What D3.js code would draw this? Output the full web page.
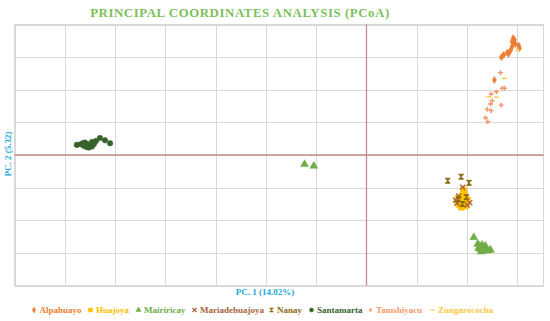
<!DOCTYPE html>
<html><head><meta charset="utf-8">
<script src="https://cdn.jsdelivr.net/npm/d3@7"></script>
<style>body{margin:0;background:#fff}svg{display:block}</style>
</head><body><svg id="c" width="550" height="321"></svg>
<script>
const seriesNames = ["Alpahuayo","Huajoya","Mairiricay","Mariadehuajoya","Nanay","Santamarta","Tamshiyacu","Zungarococha"];
const seriesColors = ["#ED7D31","#FFC000","#70AD47","#A8643A","#8C6A10","#37622A","#F2996A","#FFC83D"];
const xTicks = [-0.35,-0.3,-0.25,-0.2,-0.15,-0.1,-0.05,0,0.05,0.1,0.15];
const yTicks = [-0.4,-0.3,-0.2,-0.1,0,0.1,0.2,0.3,0.4];
const alpahuayo = [[0.1458,0.358],[0.1471,0.353],[0.1448,0.3475],[0.1464,0.3445],[0.1481,0.3405],[0.1448,0.332],[0.1514,0.335],[0.1521,0.327],[0.1399,0.314],[0.1365,0.307],[0.1342,0.300],[0.1431,0.320],[0.1272,0.230],[0.1412,0.310]];
const huajoya = [[0.0915,-0.132],[0.0934,-0.141],[0.0954,-0.126],[0.0974,-0.117],[0.0984,-0.132],[0.0994,-0.147],[0.0964,-0.150],[0.0924,-0.153],[0.0944,-0.160],[0.1004,-0.138],[0.0905,-0.144],[0.0984,-0.156],[0.0964,-0.107],[0.0974,-0.125]];
const mairiricay = [[-0.0616,-0.0285],[-0.0524,-0.0337],[0.1067,-0.2525],[0.1106,-0.273],[0.1126,-0.279],[0.115,-0.276],[0.1166,-0.283],[0.1183,-0.279],[0.1133,-0.289],[0.116,-0.2936],[0.1193,-0.289],[0.1233,-0.291],[0.114,-0.2966],[0.1206,-0.2936],[0.1116,-0.286]];
const mariadehuajoya = [[0.0957,-0.099],[0.0917,-0.126],[0.0902,-0.148],[0.1027,-0.146],[0.1001,-0.153],[0.0885,-0.138]];
const nanay = [[0.0808,-0.0788],[0.0941,-0.0666],[0.102,-0.0853],[0.0915,-0.135],[0.0994,-0.129],[0.0954,-0.150]];
const santamarta = [[-0.288,0.031],[-0.284,0.033],[-0.282,0.036],[-0.280,0.038],[-0.278,0.034],[-0.274,0.031],[-0.273,0.026],[-0.271,0.034],[-0.269,0.043],[-0.265,0.052],[-0.255,0.036],[-0.276,0.023],[-0.281,0.028],[-0.273,0.040],[-0.278,0.024],[-0.260,0.045]];
const tamshiyacu = [[0.1332,0.2525],[0.1349,0.2046],[0.1372,0.2046],[0.1292,0.194],[0.124,0.187],[0.125,0.1666],[0.1233,0.1564],[0.1339,0.153],[0.12,0.140],[0.124,0.136],[0.1183,0.1144],[0.1206,0.102]];
const zungarococha = [[0.1372,0.235],[0.1216,0.179],[0.1292,0.177],[0.1505,0.322]];
const allData = [alpahuayo,huajoya,mairiricay,mariadehuajoya,nanay,santamarta,tamshiyacu,zungarococha];

const svg = d3.select("#c");
const L=14.5, R=543.5, T=24.5, B=285.5;
const x = d3.scaleLinear().domain([-0.35,0.176]).range([L,R]);
const y = d3.scaleLinear().domain([-0.4,0.4]).range([B,T]);

svg.append("g").selectAll("line").data(xTicks).join("line")
  .attr("x1",d=>Math.round(x(d))+0.5).attr("x2",d=>Math.round(x(d))+0.5).attr("y1",T).attr("y2",B)
  .attr("stroke","#D9D9D9").attr("stroke-width",1);
svg.append("g").selectAll("line").data(yTicks).join("line")
  .attr("y1",d=>Math.round(y(d))+0.5).attr("y2",d=>Math.round(y(d))+0.5).attr("x1",L).attr("x2",R)
  .attr("stroke","#D9D9D9").attr("stroke-width",1);
svg.append("rect").attr("x",L).attr("y",T).attr("width",R-L).attr("height",B-T)
  .attr("fill","none").attr("stroke","#D9D9D9");
svg.append("line").attr("x1",x(0)).attr("x2",x(0)).attr("y1",T).attr("y2",B)
  .attr("stroke","#C48A86").attr("stroke-width",1.3);
svg.append("line").attr("y1",y(0)).attr("y2",y(0)).attr("x1",L).attr("x2",R)
  .attr("stroke","#C48A86").attr("stroke-width",1.3);

function markerPath(i, s){
  const h=s/2;
  switch(i){
    case 0: return d3.symbol(d3.symbolDiamond, s*s*0.6)();
    case 1: return `M${-h},${-h}h${s}v${s}h${-s}Z`;
    case 2: return d3.symbol(d3.symbolTriangle, s*s*0.7)();
    case 3: return `M${-h},${-h}L${h},${h}M${h},${-h}L${-h},${h}`;
    case 4: return `M${-h},${-h}H${h}L${-h},${h}H${h}Z`;
    case 5: return d3.symbol(d3.symbolCircle, s*s*0.8)();
    case 6: return `M${-h},0H${h}M0,${-h}V${h}`;
    case 7: return `M${-h},0H${h}`;
  }
}
const sizes=[5,6,6.3,5,5,5.5,5,5];
allData.forEach((arr,i)=>{
  const g=svg.append("g");
  g.selectAll("path").data(arr).join("path")
    .attr("transform",d=>`translate(${x(d[0])},${y(d[1])})`)
    .attr("d",markerPath(i,sizes[i]))
    .attr("fill",(i===3||i===6||i===7)?"none":seriesColors[i])
    .attr("stroke",seriesColors[i])
    .attr("stroke-width",(i===3||i===6||i===7)?1.4:(i===4?0.9:0.5));
});

svg.append("text").attr("x",240).attr("y",17).attr("text-anchor","middle")
  .attr("font-family","Liberation Serif").attr("font-weight","bold").attr("font-size",12.8)
  .attr("letter-spacing",0.6).attr("fill","#7CC05A").text("PRINCIPAL COORDINATES ANALYSIS (PCoA)");
svg.append("text").attr("x",265).attr("y",295).attr("text-anchor","middle")
  .attr("font-family","Liberation Serif").attr("font-weight","bold").attr("font-size",9)
  .attr("fill","#1CA9D6").text("PC. 1 (14.02%)");
svg.append("text").attr("transform","translate(11,154) rotate(-90)").attr("text-anchor","middle")
  .attr("font-family","Liberation Serif").attr("font-weight","bold").attr("font-size",9)
  .attr("fill","#1CA9D6").text("PC. 2 (5.32)");

const legX=[31.5,88,136,192,269,309,368,430];
const leg=svg.append("g");
seriesNames.forEach((n,i)=>{
  const g=leg.append("g").attr("transform",`translate(${legX[i]},${313})`);
  g.append("path").attr("transform","translate(2.5,-3)").attr("d",markerPath(i,4))
    .attr("fill",(i===3||i===6||i===7)?"none":seriesColors[i]).attr("stroke",seriesColors[i])
    .attr("stroke-width",(i===3||i===6||i===7)?1.2:0.5);
  g.append("text").attr("x",8).attr("y",0).attr("font-family","Liberation Serif")
    .attr("font-weight","bold").attr("font-size",9).attr("fill",seriesColors[i]).text(n);
});
</script></body></html>
